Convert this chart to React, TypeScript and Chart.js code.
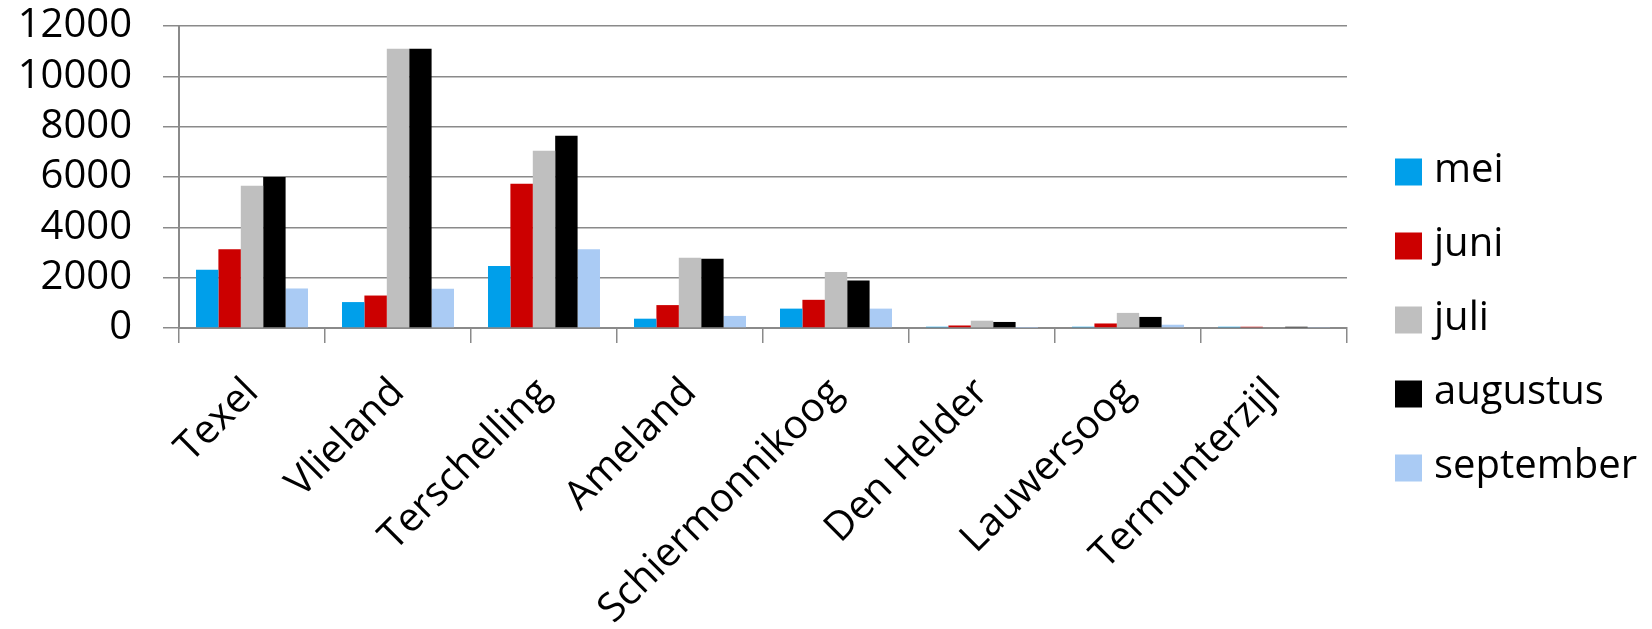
import React, { useEffect, useRef } from "react";
import { Chart, registerables } from "chart.js";

Chart.register(...registerables);

const categories = [
  "Texel",
  "Vlieland",
  "Terschelling",
  "Ameland",
  "Schiermonnikoog",
  "Den Helder",
  "Lauwersoog",
  "Termunterzijl",
];
const seriesNames = ["mei", "juni", "juli", "augustus", "september"];
const mei = [2310, 1030, 2460, 370, 770, 50, 50, 50];
const juni = [3130, 1290, 5730, 910, 1120, 100, 180, 50];
const juli = [5650, 11100, 7040, 2790, 2230, 290, 600, 30];
const augustus = [6000, 11100, 7640, 2750, 1890, 240, 440, 50];
const september = [1570, 1560, 3130, 480, 770, 10, 130, 40];
const seriesColors = ["#009FEA", "#CC0000", "#BFBFBF", "#000000", "#AACBF4"];
const yMin = 0;
const yMax = 12000;
const yStep = 2000;

const FONT = '"Open Sans", "DejaVu Sans", sans-serif';
const GRID = "#8a8a8a";

const sideLegend = {
  id: "sideLegend",
  afterDraw(chart: any) {
    const ctx = chart.ctx as CanvasRenderingContext2D;
    const area = chart.chartArea;
    const boxX = area.right + 48;
    const step = 74;
    const n = chart.data.datasets.length;
    const midY = chart.height / 2 + 5.5;
    ctx.save();
    ctx.font = `40px ${FONT}`;
    ctx.textBaseline = "middle";
    ctx.textAlign = "left";
    chart.data.datasets.forEach((ds: any, i: number) => {
      const cy = midY + (i - (n - 1) / 2) * step;
      ctx.fillStyle = ds.backgroundColor;
      ctx.fillRect(boxX, cy - 13.5, 27, 27);
      ctx.fillStyle = "#000";
      ctx.fillText(ds.label, boxX + 39, cy - 1);
    });
    ctx.restore();
  },
};

export default function App() {
  const ref = useRef<HTMLCanvasElement | null>(null);

  useEffect(() => {
    if (!ref.current) return;
    const values = [mei, juni, juli, augustus, september];
    const chart = new Chart(ref.current, {
      type: "bar",
      data: {
        labels: categories,
        datasets: seriesNames.map((name, i) => ({
          label: name,
          data: values[i],
          backgroundColor: seriesColors[i],
          borderWidth: 0,
          categoryPercentage: 0.767,
          barPercentage: 1,
        })),
      },
      options: {
        animation: false,
        responsive: false,
        devicePixelRatio: 1,
        layout: { padding: { top: 26, right: 305, left: 0, bottom: 0 } },
        plugins: {
          legend: { display: false },
          tooltip: { enabled: false },
        },
        scales: {
          x: {
            offset: true,
            grid: {
              offset: true,
              drawOnChartArea: false,
              drawTicks: true,
              tickLength: 15,
              color: GRID,
              lineWidth: 1.5,
            },
            border: { display: true, color: GRID, width: 2 },
            ticks: {
              font: { family: FONT, size: 40 },
              color: "#000",
              minRotation: 45,
              maxRotation: 45,
              padding: 26,
              autoSkip: false,
            },
            afterFit(scale: any) {
              scale.height = 301;
              scale.paddingLeft = 0;
              scale.paddingRight = 0;
            },
          },
          y: {
            min: yMin,
            max: yMax,
            ticks: {
              stepSize: yStep,
              autoSkip: false,
              font: { family: FONT, size: 40 },
              color: "#000",
              padding: 31,
              callback: (v: any) => String(v),
            },
            grid: {
              color: GRID,
              lineWidth: 1.5,
              drawTicks: true,
              tickLength: 16,
            },
            border: { display: true, color: GRID, width: 2 },
            afterFit(scale: any) {
              scale.width = 179;
              scale.paddingTop = 0;
              scale.paddingBottom = 0;
            },
          },
        },
      },
      plugins: [sideLegend],
    });
    return () => chart.destroy();
  }, []);

  return (
    <div style={{ position: "absolute", left: 0, top: 0, width: 1652, height: 629, background: "#fff" }}>
      <canvas ref={ref} width={1652} height={629} style={{ width: 1652, height: 629, display: "block" }} />
    </div>
  );
}
